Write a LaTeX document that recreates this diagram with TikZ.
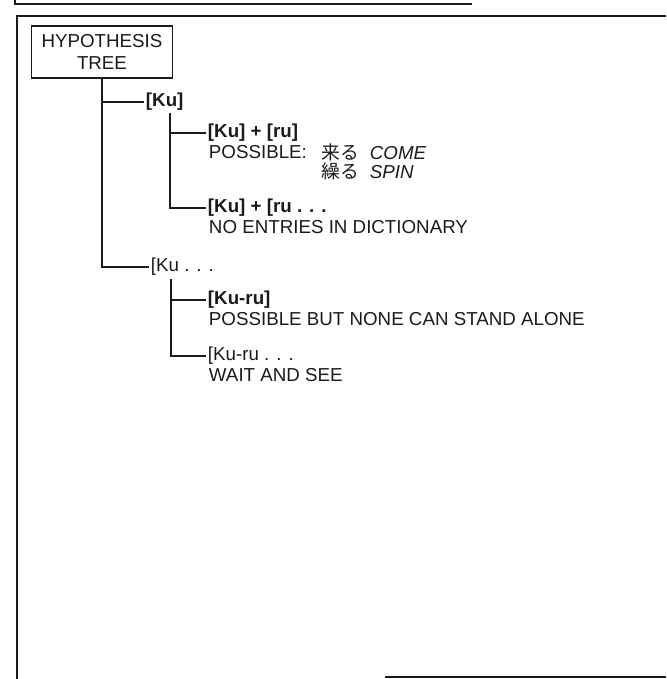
\documentclass[tikz,border=0pt]{standalone}
\usepackage{fontspec}
\setmainfont{Liberation Sans}
\newfontfamily\jpfont{Noto Sans CJK JP}
\usepackage{tikz}
\usetikzlibrary{positioning}
\definecolor{ink}{HTML}{1A1A1A}

\begin{document}
\begin{tikzpicture}[
    x=0.03cm, y=-0.03cm,
    every node/.style={font=\fontsize{16}{19}\selectfont, text=ink},
    hypbox/.style={
        rectangle,
        draw=ink,
        line width=1pt,
        align=center,
        minimum width=4.23cm,
        minimum height=1.56cm,
        inner sep=2pt
    },
    fullhyp/.style={anchor=west, inner sep=1.5pt, font=\fontsize{16}{19}\selectfont\bfseries},
    openhyp/.style={anchor=west, inner sep=1.5pt},
    note/.style={anchor=west, inner sep=1.5pt},
    branch/.style={draw=ink, line width=0.9pt},
    border/.style={draw=ink, line width=1.4pt}
]
\useasboundingbox (0,0) rectangle (666,679);

% NODES
\node[hypbox] (tree) at (102,52) {HYPOTHESIS\\TREE};

\node[fullhyp] (ku)     at (144,102) {[Ku]};
\node[openhyp] (kuopen) at (149,267) {[Ku . . .};

\coordinate (kustem)     at (170,113);
\coordinate (kuopenstem) at (171,279);

\node[fullhyp] (kuru)    at (206,133) {[Ku] + [ru]};
\node[note] (possible)   at (207,152) {POSSIBLE:};
\node[note] (come)       at (320,152) {{\jpfont 来る}\ \ \textit{COME}};
\node[note] (spin)       at (320,171) {{\jpfont 繰る}\ \ \textit{SPIN}};

\node[fullhyp] (kurupart) at (206,208) {[Ku] + [ru . . .};
\node[note] (noentry)     at (207,227) {NO ENTRIES IN DICTIONARY};

\node[fullhyp] (kuruword) at (206,300) {[Ku-ru]};
\node[note] (alone)       at (207,319) {POSSIBLE BUT NONE CAN STAND ALONE};

\node[openhyp] (kuruopen) at (206,356) {[Ku-ru . . .};
\node[note] (wait)        at (207,375) {WAIT AND SEE};

% BRANCHES
\draw[branch] (tree.south) |- (ku.west);
\draw[branch] (tree.south) |- (kuopen.west);
\draw[branch] (kustem) |- (kuru.west);
\draw[branch] (kustem) |- (kurupart.west);
\draw[branch] (kuopenstem) |- (kuruword.west);
\draw[branch] (kuopenstem) |- (kuruopen.west);

% FRAME
\draw[border] (15,0) -- (15,4) -- (472,4);
\draw[border] (666,16) -- (17,16) -- (17,679);
\draw[border] (385,677) -- (666,677);

\end{tikzpicture}
\end{document}
